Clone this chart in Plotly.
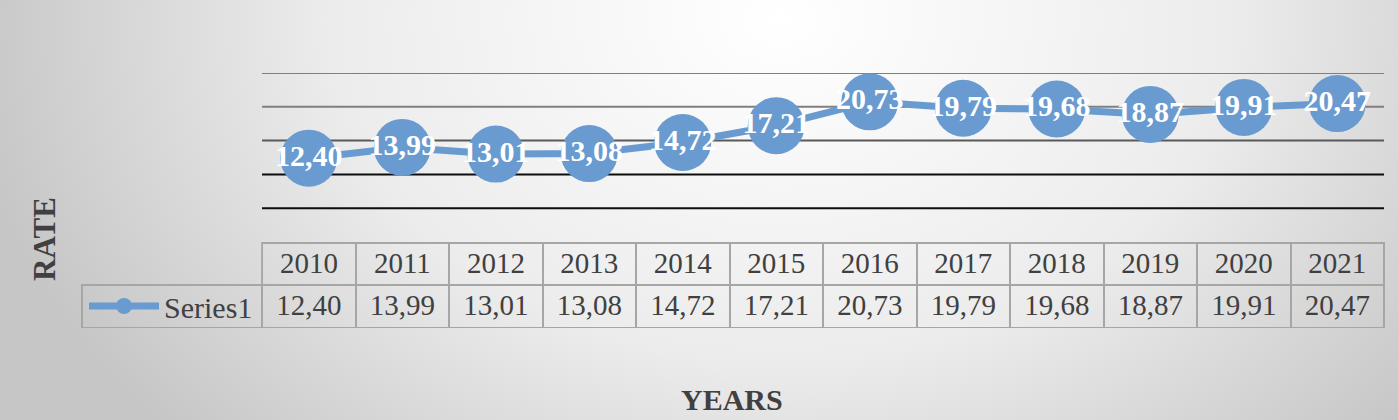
import base64
import plotly.graph_objects as go

years = ["2010", "2011", "2012", "2013", "2014", "2015", "2016", "2017", "2018", "2019", "2020", "2021"]
rates = [12.40, 13.99, 13.01, 13.08, 14.72, 17.21, 20.73, 19.79, 19.68, 18.87, 19.91, 20.47]
series_name = "Series1"
grid_values = [5, 10, 15, 20, 25]
grid_colors = ["#0d0d0d", "#0d0d0d", "#595959", "#7f7f7f", "#7f7f7f"]

W, H = 1398, 420
BLUE = "#6a9bd0"
SERIF = "Liberation Serif"
TXT = "#404040"

svg = f"""<svg xmlns='http://www.w3.org/2000/svg' width='{W}' height='{H}'>
<defs><radialGradient id='g' gradientUnits='userSpaceOnUse' cx='780' cy='20' r='820'
gradientTransform='translate(780 20) scale(1 0.75) translate(-780 -20)'>
<stop offset='0' stop-color='#ffffff'/><stop offset='0.55' stop-color='#ececec'/>
<stop offset='1' stop-color='#c6c6c6'/></radialGradient></defs>
<rect width='{W}' height='{H}' fill='url(#g)'/></svg>"""
bg = "data:image/svg+xml;base64," + base64.b64encode(svg.encode()).decode()

def px_x(p):
    return p / W

def px_y(p):
    return (H - p) / H

fig = go.Figure()

fig.add_trace(go.Scatter(
    x=years, y=rates, name=series_name, mode="lines+markers+text",
    line=dict(color=BLUE, width=7),
    marker=dict(color=BLUE, size=57),
    texttemplate="%{y:.2f}", textposition="middle center",
    textfont=dict(family=SERIF, size=30, color="white", weight="bold"),
    cliponaxis=False, hoverinfo="skip",
))

fmt = [f"{v:.2f}".replace(".", ",") for v in rates]
fig.add_trace(go.Table(
    domain=dict(x=[px_x(82), px_x(1384)], y=[px_y(328), px_y(243)]),
    columnwidth=[180] + [93.4] * len(years),
    header=dict(values=[""] + years, height=42, align="center",
                fill=dict(color="rgba(0,0,0,0)"),
                line=dict(color=["rgba(0,0,0,0)"] + ["#a6a6a6"] * len(years), width=2),
                font=dict(family=SERIF, size=29, color=TXT)),
    cells=dict(values=[[""]] + [[v] for v in fmt], height=43, align="center",
               fill=dict(color="rgba(0,0,0,0)"),
               line=dict(color="#a6a6a6", width=2),
               font=dict(family=SERIF, size=29, color=TXT)),
))

shapes = [dict(type="line", xref="x domain", yref="y", x0=0, x1=1, y0=v, y1=v,
               line=dict(color=c, width=2), layer="below")
          for v, c in zip(grid_values, grid_colors)]

fig.update_layout(
    width=W, height=H, margin=dict(l=0, r=0, t=0, b=0),
    paper_bgcolor="#e0e0e0", plot_bgcolor="rgba(0,0,0,0)",
    separators=",.",
    images=[dict(source=bg, xref="paper", yref="paper", x=0, y=1, sizex=1, sizey=1,
                 sizing="stretch", layer="below", xanchor="left", yanchor="top")],
    xaxis=dict(domain=[px_x(262), px_x(1384)], type="category", range=[-0.5, len(years) - 0.5],
               showticklabels=False, showgrid=False, zeroline=False,
               showline=True, linecolor="#7f7f7f", linewidth=2, fixedrange=True),
    yaxis=dict(domain=[px_y(242), px_y(73)], range=[0, 25], showticklabels=False,
               showgrid=False, zeroline=False, showline=False, fixedrange=True),
    shapes=shapes,
    showlegend=True,
    legend=dict(x=px_x(84), y=px_y(306), xanchor="left", yanchor="middle",
                bgcolor="rgba(0,0,0,0)", itemwidth=70, itemsizing="trace",
                font=dict(family=SERIF, size=30, color=TXT)),
    annotations=[
        dict(text="<b>RATE</b>", xref="paper", yref="paper", x=px_x(44), y=px_y(239),
             textangle=-90, showarrow=False, xanchor="center", yanchor="middle",
             font=dict(family=SERIF, size=31, color=TXT)),
        dict(text="<b>YEARS</b>", xref="paper", yref="paper", x=px_x(732), y=px_y(399),
             showarrow=False, xanchor="center", yanchor="middle",
             font=dict(family=SERIF, size=30, color=TXT)),
    ],
)

fig.write_html("out.html", config={"displayModeBar": False},
               post_script="document.body.style.margin='0';document.body.style.padding='0';document.body.style.overflow='hidden';")
